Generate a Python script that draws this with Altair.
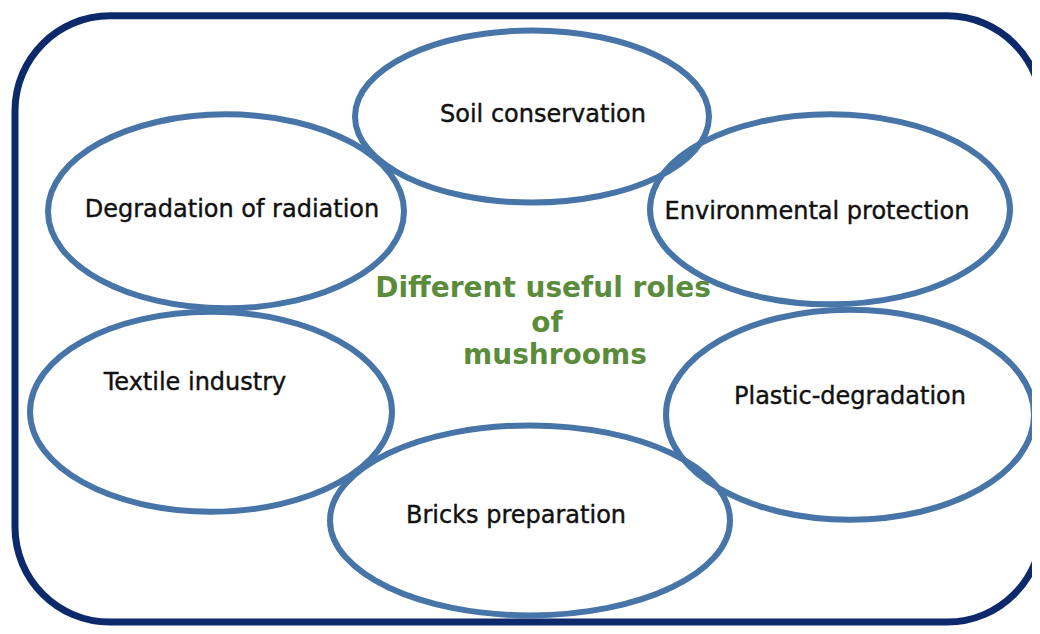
import altair as alt
import pandas as pd

# ---- diagram content (image pixel coordinates) ----
roles = ["Soil conservation", "Degradation of radiation", "Environmental protection",
         "Textile industry", "Plastic-degradation", "Bricks preparation"]
ell_cx = [532, 226, 830, 211, 850, 530]
ell_cy = [116, 212, 210, 415, 418, 525]
ell_rx = [177, 178, 180, 181, 184, 200]
ell_ry = [86, 97, 95, 100, 105, 95]

label_x = [543, 232, 817, 195, 850, 516]
label_y = [122, 218, 220, 393, 407, 528]

center_lines = ["Different useful roles", "of", "mushrooms"]
center_x = [543, 547, 555]
center_y = [299, 334, 367]

frame_x = [15]
frame_x2 = [1042]
frame_y = [14]
frame_y2 = [628]

BLUE = "#4875a8"
NAVY = "#0c2a6b"
GREEN = "#5b8c3c"


def ellipse_path(rx, ry):
    r = ry / rx
    k = 0.5523
    return (f"M-1,0 C-1,{-r*k:.4f} {-k},{-r:.4f} 0,{-r:.4f} "
            f"C{k},{-r:.4f} 1,{-r*k:.4f} 1,0 "
            f"C1,{r*k:.4f} {k},{r:.4f} 0,{r:.4f} "
            f"C{-k},{r:.4f} -1,{r*k:.4f} -1,0 Z")


ell_df = pd.DataFrame({
    "role": roles,
    "cx": ell_cx,
    "cy": ell_cy,
    "shape": [ellipse_path(a, b) for a, b in zip(ell_rx, ell_ry)],
    "size": [4 * a * a for a in ell_rx],
})
lab_df = pd.DataFrame({"role": roles, "x": label_x, "y": label_y})
cen_df = pd.DataFrame({"t": center_lines, "x": center_x, "y": center_y})
frame_df = pd.DataFrame({"x": frame_x, "x2": frame_x2, "y": frame_y, "y2": frame_y2})

xs = alt.Scale(domain=[0, 1040], range=[-8, 1032])
ys = alt.Scale(domain=[0, 634], range=[-6, 620])

frame = alt.Chart(frame_df).mark_rect(
    fill="white", fillOpacity=0, stroke=NAVY, strokeWidth=7, cornerRadius=95
).encode(
    x=alt.X("x:Q", scale=xs, axis=None),
    x2="x2:Q",
    y=alt.Y("y:Q", scale=ys, axis=None),
    y2="y2:Q",
)

ellipses = alt.Chart(ell_df).mark_point(
    filled=False, stroke=BLUE, strokeWidth=6, opacity=1
).encode(
    x=alt.X("cx:Q", scale=xs, axis=None),
    y=alt.Y("cy:Q", scale=ys, axis=None),
    shape=alt.Shape("shape:N", scale=None, legend=None),
    size=alt.Size("size:Q", scale=None, legend=None),
)

labels = alt.Chart(lab_df).mark_text(
    font="DejaVu Sans", fontSize=24, color="#111111", align="center", baseline="alphabetic",
    stroke="#111111", strokeWidth=0.4
).encode(
    x=alt.X("x:Q", scale=xs, axis=None),
    y=alt.Y("y:Q", scale=ys, axis=None),
    text="role:N",
)

center = alt.Chart(cen_df).mark_text(
    font="DejaVu Sans", fontSize=28, fontWeight="bold", color=GREEN,
    align="center", baseline="alphabetic"
).encode(
    x=alt.X("x:Q", scale=xs, axis=None),
    y=alt.Y("y:Q", scale=ys, axis=None),
    text="t:N",
)

chart = alt.layer(frame, ellipses, labels, center).properties(
    width=1024, height=618, padding=0,
    autosize=alt.AutoSizeParams(type="none"),
    background="white",
).configure_view(stroke=None)

chart.save("out.html", embed_options={"renderer": "svg", "actions": False})
